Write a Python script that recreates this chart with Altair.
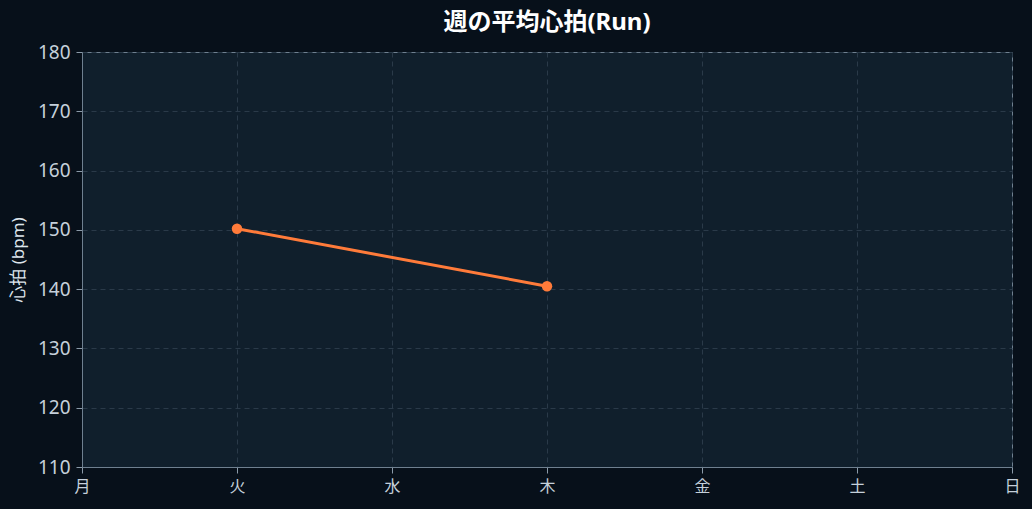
import altair as alt
import pandas as pd

days = ["月", "火", "水", "木", "金", "土", "日"]
run_days = ["火", "木"]
run_hr = [150.2, 140.5]

df = pd.DataFrame({"day": run_days, "hr": run_hr})

FONT = "Noto Sans, Noto Sans CJK JP"

base = alt.Chart(df).encode(
    x=alt.X("day:N", sort=days,
            scale=alt.Scale(domain=days, type="point", padding=0),
            axis=alt.Axis(title=None, labelAngle=0, grid=True)),
    y=alt.Y("hr:Q", scale=alt.Scale(domain=[110, 180], nice=False, zero=False),
            axis=alt.Axis(title="心拍 (bpm)", values=list(range(110, 181, 10)), grid=True)),
)

line = base.mark_line(color="#ff7b3a", strokeWidth=3)
pts = base.mark_circle(color="#ff7b3a", size=110, opacity=1)

chart = (line + pts).properties(
    width=930, height=415,
    title=alt.TitleParams("週の平均心拍(Run)", fontSize=24, fontWeight="bold",
                          color="#ffffff", font=FONT, offset=8,
                          anchor="middle"),
    background="#07101a",
    autosize=alt.AutoSizeParams(type="none"),
    padding={"left": 74, "top": 44, "right": 12, "bottom": 34},
).configure_view(
    fill="#101f2c", stroke="#6f8090", strokeWidth=1
).configure_axis(
    domainColor="#6f8090", tickColor="#8b9aa8", tickSize=6,
    labelColor="#c5d0db", labelFont=FONT, labelFontSize=19,
    titleColor="#dde5ec", titleFont=FONT, titleFontSize=17,
    titleFontWeight="normal",
    gridColor="#2a3a49", gridDash=[5, 4], gridWidth=1,
).configure_axisX(labelFontSize=16, labelPadding=5).configure_axisY(titlePadding=10, labelPadding=6)

save_kwargs = {}
try:
    import jinja2
    save_kwargs["template"] = jinja2.Template("""<!DOCTYPE html>
<html>
<head>
  <style>
    html, body { background: #07101a; }
    #{{ output_div }}.vega-embed { width: 100%; display: flex; }
  </style>
  <script type="text/javascript" src="{{ base_url }}/vega@{{ vega_version }}"></script>
  <script type="text/javascript" src="{{ base_url }}/vega-lite@{{ vegalite_version }}"></script>
  <script type="text/javascript" src="{{ base_url }}/vega-embed@{{ vegaembed_version }}"></script>
</head>
<body>
  <div id="{{ output_div }}"></div>
  <script>
    (function(vegaEmbed) {
      var spec = {{ spec }};
      var embedOpt = {{ embed_options }};
      const el = document.getElementById('{{ output_div }}');
      vegaEmbed("#{{ output_div }}", spec, embedOpt).catch(function(error) {
        el.innerHTML = '<div style="color:red;">' + error.message + '</div>';
      });
    })(vegaEmbed);
  </script>
</body>
</html>
""")
except Exception:
    save_kwargs = {}

chart.save("out.html", embed_options={"renderer": "svg", "actions": False}, **save_kwargs)
